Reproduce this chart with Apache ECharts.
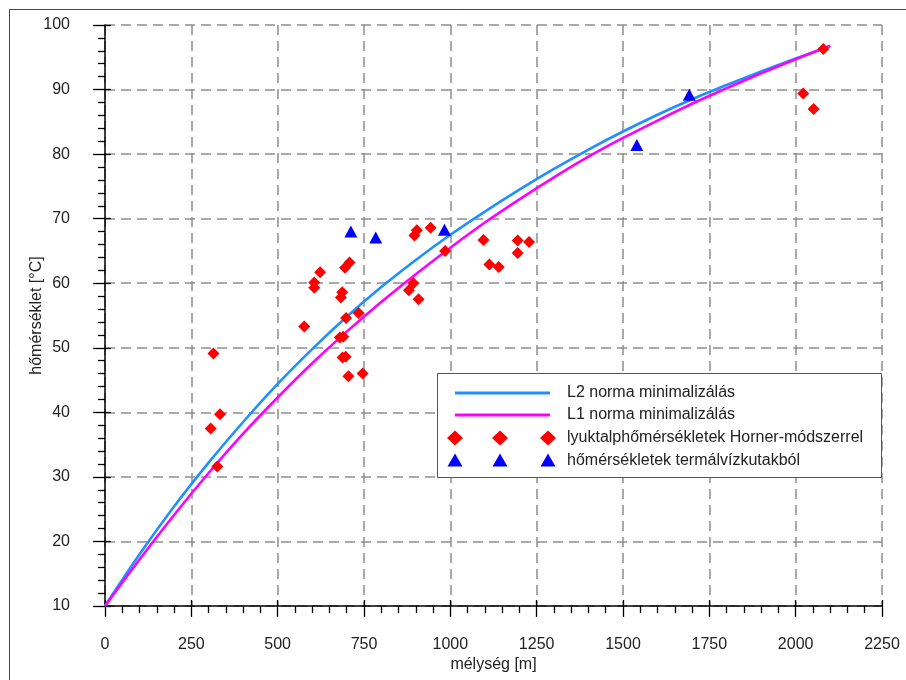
<!DOCTYPE html>
<html>
<head>
<meta charset="utf-8">
<script src="https://cdn.jsdelivr.net/npm/echarts@6/dist/echarts.min.js"></script>
<style>
  html, body { margin: 0; padding: 0; background: #ffffff; }
  #chart { width: 906px; height: 680px; }
</style>
</head>
<body>
<div id="chart"></div>
<script>
// Fitted temperature–depth curves, sampled every 100 m
const depthSteps = [0, 100, 200, 300, 400, 500, 600, 700, 800, 900, 1000,
                    1100, 1200, 1300, 1400, 1500, 1600, 1700, 1800, 1900, 2000, 2100];
const l2Temps = [10, 18.0, 25.4, 32.2, 38.5, 44.4, 49.8, 54.8, 59.4, 63.6, 67.5,
                 71.1, 74.5, 77.7, 80.7, 83.5, 86.1, 88.5, 90.7, 92.8, 94.8, 96.7];
const l1Temps = [10, 17.2, 24.1, 30.6, 36.7, 42.3, 47.6, 52.5, 57.1, 61.4, 65.5,
                 69.4, 73.0, 76.4, 79.6, 82.5, 85.2, 87.8, 90.2, 92.5, 94.7, 96.8];

// Bottom-hole temperatures (Horner method)
const hornerDepths = [314, 333, 306, 325, 708, 695, 623, 606, 606, 687, 683, 734,
                      698, 577, 680, 690, 688, 697, 705, 746, 903, 896, 943, 985,
                      1096, 1195, 1228, 1195, 1113, 1140, 893, 880, 908, 2022, 2052, 2080];
const hornerTemps  = [49.1, 39.7, 37.5, 31.6, 63.2, 62.4, 61.7, 60.1, 59.3, 58.6, 57.8, 55.4,
                      54.6, 53.3, 51.6, 51.7, 48.5, 48.6, 45.6, 46.0, 68.2, 67.4, 68.6, 65.0,
                      66.7, 66.6, 66.4, 64.7, 62.9, 62.5, 60.0, 58.9, 57.5, 89.4, 87.0, 96.3];

// Thermal water well temperatures
const wellDepths = [712, 784, 983, 1540, 1692];
const wellTemps  = [68.0, 67.1, 68.3, 81.4, 89.2];

// Axis ticks
const xTicks = [0, 250, 500, 750, 1000, 1250, 1500, 1750, 2000, 2250];
const yTicks = [10, 20, 30, 40, 50, 60, 70, 80, 90, 100];

const seriesNames = [
  'L2 norma minimalizálás',
  'L1 norma minimalizálás',
  'lyuktalphőmérsékletek Horner-módszerrel',
  'hőmérsékletek termálvízkutakból'
];

const zip = (xs, ys) => xs.map((x, i) => [x, ys[i]]);

const FONT = '"Liberation Sans", Arial, sans-serif';
const BLUE_LINE = '#1e90ff';
const MAGENTA = '#ff00ff';
const RED = '#ff0000';
const BLUE = '#0000ff';

const gridBox = { left: 105, right: 24, top: 25, bottom: 74 };

const xRange = { min: xTicks[0], max: xTicks[xTicks.length - 1], interval: xTicks[1] - xTicks[0] };
const yRange = { min: yTicks[0], max: yTicks[yTicks.length - 1], interval: yTicks[1] - yTicks[0] };

// Legend built from graphic elements (rows of three markers)
const legX = 437, legY = 373, legW = 444, legH = 104;
const rowY = [393, 415, 438, 460.5];
const markX = [455, 500, 548];
const textX = 567;

function diamond(cx, cy) {
  return { type: 'polygon', shape: { points: [[cx, cy - 7.5], [cx + 8, cy], [cx, cy + 7.5], [cx - 8, cy]] },
           style: { fill: RED }, z: 101 };
}
function triangle(cx, cy) {
  return { type: 'polygon', shape: { points: [[cx, cy - 7], [cx + 7.5, cy + 6], [cx - 7.5, cy + 6]] },
           style: { fill: BLUE }, z: 101 };
}

const legendElements = [
  { type: 'rect', shape: { x: legX + 0.5, y: legY + 0.5, width: legW, height: legH },
    style: { fill: '#ffffff', stroke: '#555555', lineWidth: 1 }, z: 100 },
  { type: 'line', shape: { x1: 455, y1: rowY[0], x2: 550, y2: rowY[0] },
    style: { stroke: BLUE_LINE, lineWidth: 3 }, z: 101 },
  { type: 'line', shape: { x1: 455, y1: rowY[1], x2: 550, y2: rowY[1] },
    style: { stroke: MAGENTA, lineWidth: 3 }, z: 101 },
  ...markX.map(x => diamond(x, rowY[2])),
  ...markX.map(x => triangle(x, rowY[3])),
  ...seriesNames.map((name, i) => ({
    type: 'text', x: textX, y: rowY[i], z: 101,
    style: { text: name, fill: '#222222', font: '16px ' + FONT, verticalAlign: 'middle' }
  }))
];

const chart = echarts.init(document.getElementById('chart'), null, { renderer: 'canvas' });

const splitLineStyle = { show: true, lineStyle: { color: '#8f8f8f', width: 1.5, type: [10, 6] } };
const plainNumber = v => String(v);

chart.setOption({
  backgroundColor: '#ffffff',
  animation: false,
  textStyle: { fontFamily: FONT },
  grid: [
    Object.assign({ containLabel: false }, gridBox),
    Object.assign({ containLabel: false }, gridBox)
  ],
  xAxis: [
    {
      type: 'value', gridIndex: 0, min: xRange.min, max: xRange.max, interval: xRange.interval,
      name: 'mélység [m]', nameLocation: 'middle', nameGap: 51, nameMoveOverlap: false,
      nameTextStyle: { fontSize: 16, color: '#222', fontFamily: FONT },
      axisLine: { show: true, lineStyle: { color: '#000', width: 1.5 } },
      axisTick: { show: true, length: 11, lineStyle: { color: '#000', width: 1.3 } },
      minorTick: { show: true, splitNumber: 5, length: 7, lineStyle: { color: '#000', width: 1.3 } },
      axisLabel: { margin: 31, fontSize: 16, color: '#222', fontFamily: FONT, formatter: plainNumber },
      splitLine: splitLineStyle
    },
    {
      // short inner parts of the major ticks
      type: 'value', gridIndex: 1, min: xRange.min, max: xRange.max, interval: xRange.interval,
      axisLine: { show: false },
      axisTick: { show: true, inside: true, length: 6, lineStyle: { color: '#000', width: 1.3 } },
      axisLabel: { show: false }, splitLine: { show: false }
    }
  ],
  yAxis: [
    {
      type: 'value', gridIndex: 0, min: yRange.min, max: yRange.max, interval: yRange.interval,
      name: 'hőmérséklet [°C]', nameLocation: 'middle', nameGap: 60, nameMoveOverlap: false,
      nameTextStyle: { fontSize: 16, color: '#222', fontFamily: FONT },
      axisLine: { show: true, lineStyle: { color: '#000', width: 1.5 } },
      axisTick: { show: true, length: 12, lineStyle: { color: '#000', width: 1.3 } },
      minorTick: { show: true, splitNumber: 5, length: 7, lineStyle: { color: '#000', width: 1.3 } },
      axisLabel: { margin: 35, fontSize: 16, color: '#222', fontFamily: FONT, formatter: plainNumber },
      splitLine: splitLineStyle
    },
    {
      type: 'value', gridIndex: 1, min: yRange.min, max: yRange.max, interval: yRange.interval,
      axisLine: { show: false },
      axisTick: { show: true, inside: true, length: 6, lineStyle: { color: '#000', width: 1.3 } },
      axisLabel: { show: false }, splitLine: { show: false }
    }
  ],
  series: [
    {
      name: seriesNames[0], type: 'line', xAxisIndex: 0, yAxisIndex: 0,
      data: zip(depthSteps, l2Temps), smooth: 0.3, symbol: 'none',
      lineStyle: { color: BLUE_LINE, width: 2.6 }, z: 3
    },
    {
      name: seriesNames[1], type: 'line', xAxisIndex: 0, yAxisIndex: 0,
      data: zip(depthSteps, l1Temps), smooth: 0.3, symbol: 'none',
      lineStyle: { color: MAGENTA, width: 2.6 }, z: 3
    },
    {
      name: seriesNames[2], type: 'scatter', xAxisIndex: 0, yAxisIndex: 0,
      data: zip(hornerDepths, hornerTemps), symbol: 'diamond', symbolSize: [12, 12],
      itemStyle: { color: RED, opacity: 1 }, z: 4
    },
    {
      name: seriesNames[3], type: 'scatter', xAxisIndex: 0, yAxisIndex: 0,
      data: zip(wellDepths, wellTemps), symbol: 'triangle', symbolSize: [13, 12],
      itemStyle: { color: BLUE, opacity: 1 }, z: 4
    }
  ],
  graphic: [
    // outer frame
    { type: 'rect', shape: { x: 9.5, y: 9.5, width: 920, height: 700 },
      style: { fill: 'none', stroke: '#444444', lineWidth: 1 }, z: 0, silent: true },
    ...legendElements
  ]
});
</script>
</body>
</html>
